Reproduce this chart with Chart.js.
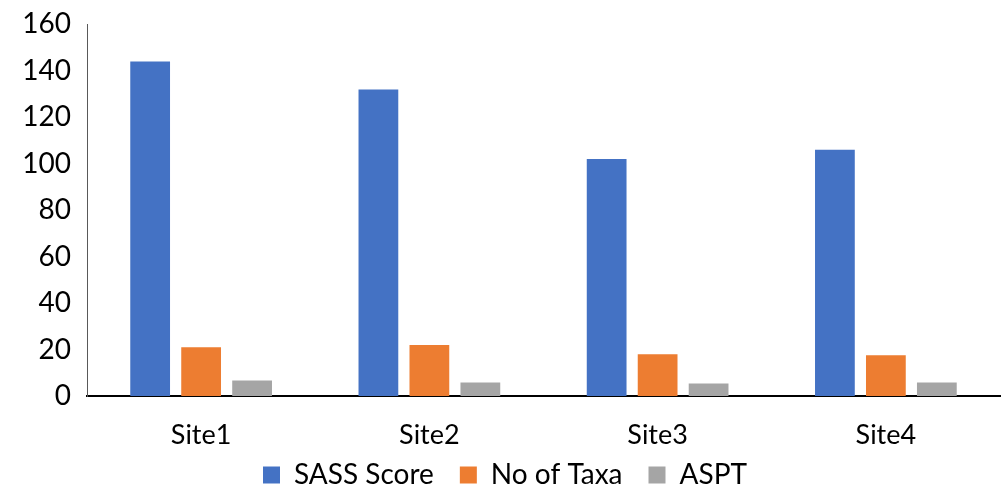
<!DOCTYPE html>
<html>
<head>
<meta charset="utf-8">
<script src="https://cdn.jsdelivr.net/npm/chart.js@4/dist/chart.umd.min.js"></script>
<style>
  html, body { margin: 0; padding: 0; background: #fff; }
  #wrap { width: 1001px; height: 488px; }
</style>
</head>
<body>
<div id="wrap"><canvas id="chart"></canvas></div>
<script>
// sites and their scores
const sites = ['Site1', 'Site2', 'Site3', 'Site4'];
const sassScore = [144, 132, 102, 106];
const noOfTaxa = [21, 22, 18, 17.5];
const aspt = [6.7, 5.8, 5.4, 5.8];
const yTicks = [0, 20, 40, 60, 80, 100, 120, 140, 160];

const labelFont = { family: 'Lato, "Open Sans", sans-serif', size: 27 };
const legendFont = { family: 'Lato, "Open Sans", sans-serif', size: 28 };
const tickFont = { family: 'Lato, "Open Sans", sans-serif', size: 28, lineHeight: 0.6 };

// legend: keep wide gaps between items but reserve little height,
// then let its box overlap the axis labels' space
const legendBox = {
  id: 'legendBox',
  beforeInit(chart) {
    const fit = chart.legend.fit;
    chart.legend.fit = function() {
      fit.call(this);
      this.height = 34;
    };
  },
  afterLayout(chart) {
    const lg = chart.legend;
    lg.left += 5;
    lg.right += 5;
    lg.top = chart.height - 53;
    lg.bottom = chart.height;
    lg.height = lg.bottom - lg.top;
  }
};

const data = {
  labels: sites,
  datasets: [
    { label: 'SASS Score', data: sassScore, backgroundColor: '#4472C4' },
    { label: 'No of Taxa', data: noOfTaxa, backgroundColor: '#ED7D31' },
    { label: 'ASPT', data: aspt, backgroundColor: '#A5A5A5' }
  ]
};

const config = {
  type: 'bar',
  data,
  plugins: [legendBox],
  options: {
    responsive: true,
    maintainAspectRatio: false,
    animation: false,
    datasets: { bar: { categoryPercentage: 0.67, barPercentage: 0.78 } },
    layout: { padding: { top: 0, right: 1, bottom: 0, left: 0 } },
    plugins: {
      legend: {
        position: 'bottom',
        labels: { font: legendFont, color: '#000', boxWidth: 17, boxHeight: 17, padding: 26 }
      },
      tooltip: { enabled: false }
    },
    scales: {
      x: {
        grid: { display: false, drawTicks: false },
        border: { color: '#000', width: 2 },
        ticks: { font: labelFont, color: '#000', padding: 23 },
        afterFit: function(scale) { scale.height = 58; }
      },
      y: {
        min: 0,
        max: 160,
        afterBuildTicks: function(scale) {
          scale.ticks = yTicks.map(v => ({ value: v }));
        },
        grid: { display: false, drawTicks: false },
        border: { color: '#595959', width: 1 },
        ticks: { font: tickFont, color: '#000', padding: 16 },
        afterFit: function(scale) { scale.width = 87; }
      }
    }
  }
};

let myChart = new Chart(document.getElementById('chart'), config);
</script>
</body>
</html>
